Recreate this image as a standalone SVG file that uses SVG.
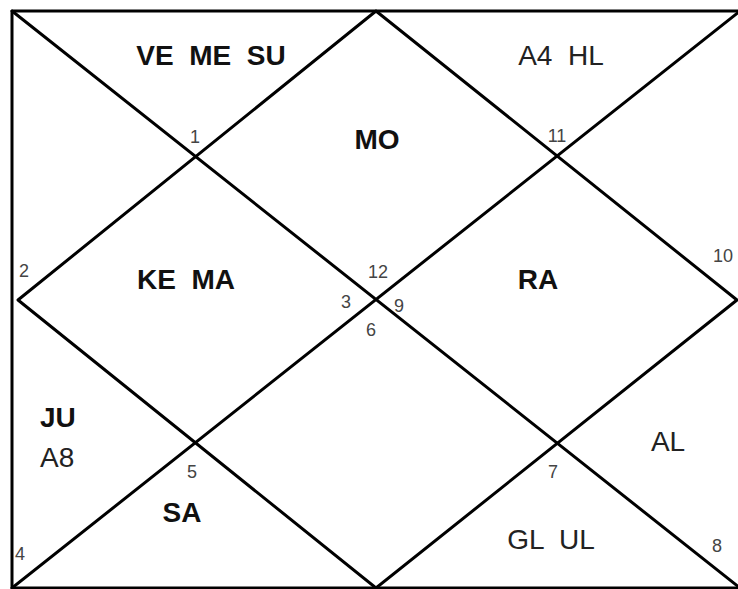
<svg xmlns="http://www.w3.org/2000/svg" width="738" height="589" viewBox="0 0 738 589">
<style>
.ln{stroke:#000;stroke-width:3;fill:none;stroke-linecap:round;stroke-linejoin:round}
.b{font-family:"Liberation Sans",Arial,sans-serif;font-weight:bold;font-size:28px;fill:#111}
.r{font-family:"Liberation Sans",Arial,sans-serif;font-size:28px;fill:#222}
.n{font-family:"Liberation Sans",Arial,sans-serif;font-size:18px;fill:#444}
</style>
<rect width="738" height="589" fill="#fff"/>
<g id="connectors">
<path class="ln" d="M12 11 H740 M12 11 V588 H740"/>
<path class="ln" d="M12 11 L740 588 M740 11 L12 588"/>
<path class="ln" d="M18 300 L376 11 L737 300 L376 588 Z"/>
</g>
<g id="h1"><text class="b" x="211" y="65" text-anchor="middle" xml:space="preserve">VE  ME  SU</text><text class="n" x="195" y="143" text-anchor="middle">1</text></g>
<g id="h2"><text class="n" x="24" y="277" text-anchor="middle">2</text></g>
<g id="h3"><text class="n" x="346" y="308" text-anchor="middle">3</text></g>
<g id="h4"><text class="n" x="20" y="560" text-anchor="middle">4</text></g>
<g id="h5"><text class="n" x="192" y="478" text-anchor="middle">5</text></g>
<g id="h6"><text class="n" x="371" y="336" text-anchor="middle">6</text></g>
<g id="h7"><text class="n" x="553" y="478" text-anchor="middle">7</text></g>
<g id="h8"><text class="n" x="717" y="552" text-anchor="middle">8</text></g>
<g id="h9"><text class="n" x="399" y="312" text-anchor="middle">9</text></g>
<g id="h10"><text class="n" x="723" y="262" text-anchor="middle">10</text></g>
<g id="h11"><text class="n" x="557" y="142" text-anchor="middle">11</text></g>
<g id="h12"><text class="n" x="378" y="278" text-anchor="middle">12</text></g>
<g id="house-mo"><text class="b" x="377" y="149" text-anchor="middle">MO</text></g>
<g id="house-hl"><text class="r" x="561" y="65" text-anchor="middle" xml:space="preserve">A4  HL</text></g>
<g id="house-kema"><text class="b" x="186" y="289" text-anchor="middle" xml:space="preserve">KE  MA</text></g>
<g id="house-ra"><text class="b" x="538" y="289" text-anchor="middle">RA</text></g>
<g id="house-ju"><text class="b" x="40" y="427">JU</text><text class="r" x="40" y="467">A8</text></g>
<g id="house-sa"><text class="b" x="182" y="522" text-anchor="middle">SA</text></g>
<g id="house-al"><text class="r" x="668" y="451" text-anchor="middle">AL</text></g>
<g id="house-glul"><text class="r" x="551" y="549" text-anchor="middle" xml:space="preserve">GL  UL</text></g>
</svg>
